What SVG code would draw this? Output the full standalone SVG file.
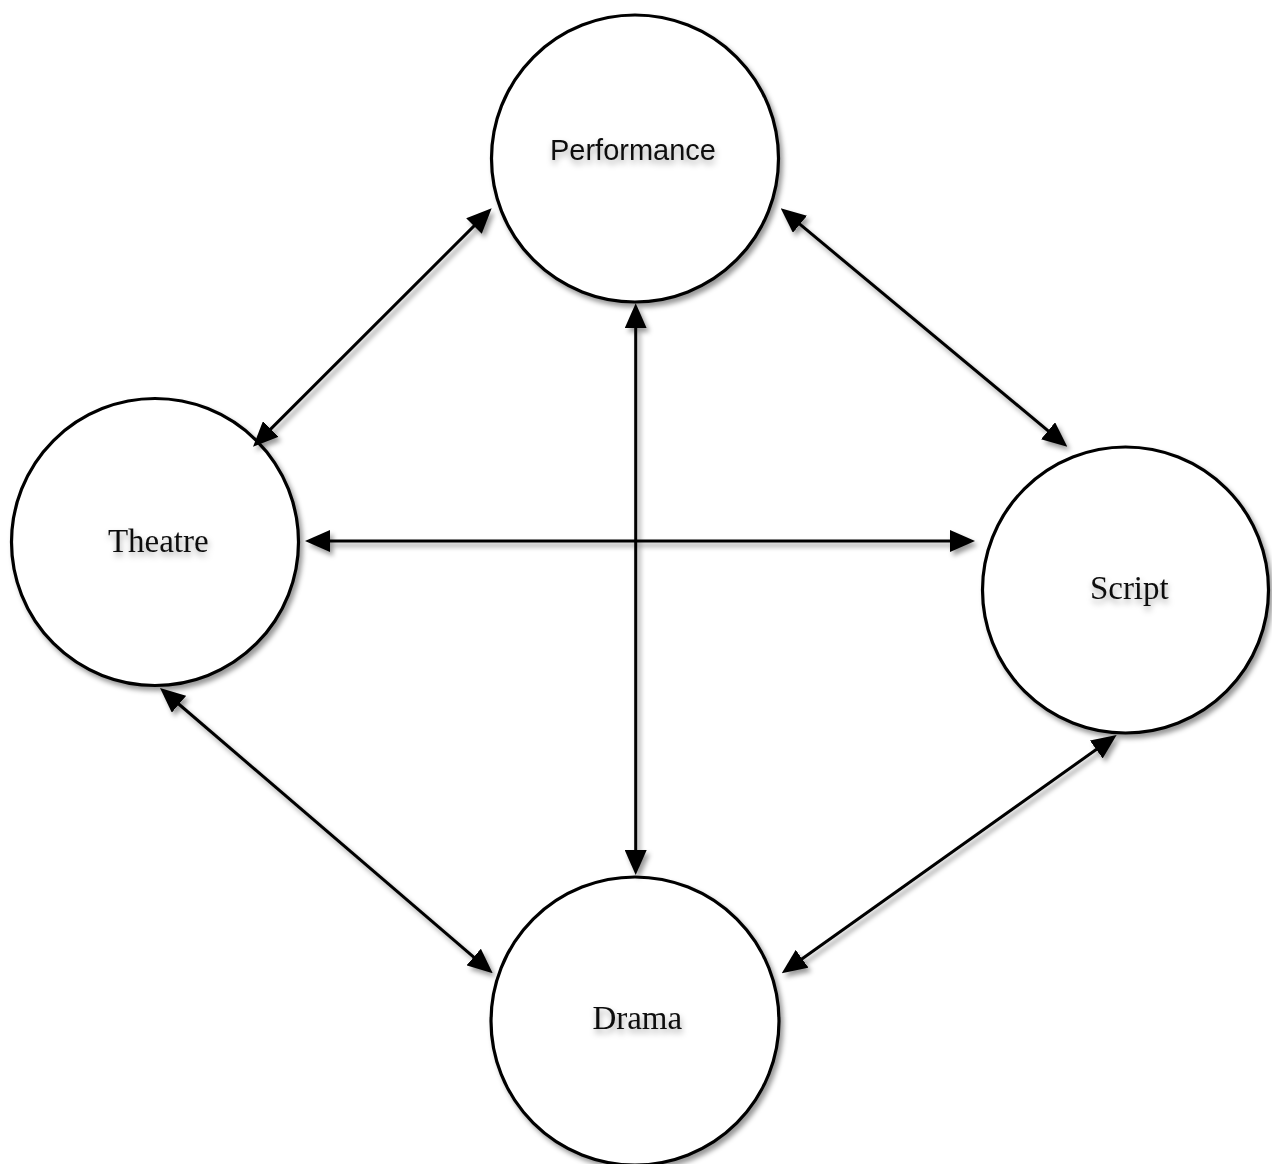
<svg xmlns="http://www.w3.org/2000/svg" width="1272" height="1164" viewBox="0 0 1272 1164">
  <defs>
    <filter id="shadow" x="-20%" y="-20%" width="140%" height="140%">
      <feDropShadow dx="3" dy="4" stdDeviation="2.5" flood-color="#000" flood-opacity="0.4"/>
    </filter>
    <filter id="tshadow" x="-20%" y="-30%" width="140%" height="180%">
      <feDropShadow dx="1" dy="4" stdDeviation="3" flood-color="#000" flood-opacity="0.35"/>
    </filter>
    <marker id="arrow" viewBox="0 0 25 22" refX="15" refY="11" markerWidth="25" markerHeight="22" markerUnits="userSpaceOnUse" orient="auto-start-reverse">
      <path d="M0,0 L25,11 L0,22 Z" fill="#000"/>
    </marker>
  </defs>
  <style>
    .node circle { fill: #fff; stroke: #000; stroke-width: 3.2; }
    .sans { font-family: "Liberation Sans", Arial, sans-serif; font-size: 29px; fill: #111; text-anchor: middle; }
    .serif { font-family: "Liberation Serif", "Times New Roman", serif; font-size: 33px; fill: #111; text-anchor: middle; }
    .conn line { stroke: #000; stroke-width: 3; fill: none; marker-start: url(#arrow); marker-end: url(#arrow); }
  </style>
  <rect width="1272" height="1164" fill="#fff"/>

  <g id="node-performance" class="node">
    <circle cx="635" cy="158.5" r="143.5" filter="url(#shadow)"/>
    <text class="sans" x="633" y="160" filter="url(#tshadow)">Performance</text>
  </g>
  <g id="node-theatre" class="node">
    <circle cx="155" cy="542" r="143.5" filter="url(#shadow)"/>
    <text class="serif" x="158.3" y="551.5" filter="url(#tshadow)">Theatre</text>
  </g>
  <g id="node-script" class="node">
    <circle cx="1125.5" cy="590" r="143" filter="url(#shadow)"/>
    <text class="serif" x="1129.3" y="599.3" filter="url(#tshadow)">Script</text>
  </g>
  <g id="node-drama" class="node">
    <circle cx="635" cy="1021" r="144" filter="url(#shadow)"/>
    <text class="serif" x="637.3" y="1029.3" filter="url(#tshadow)">Drama</text>
  </g>

  <g id="connectors" class="conn" filter="url(#shadow)">
    <line x1="484.6" y1="215.4" x2="260.1" y2="439.6"/>
    <line x1="788.4" y1="214.7" x2="1059.6" y2="440.3"/>
    <line x1="315" y1="541" x2="965" y2="541"/>
    <line x1="635.7" y1="313.3" x2="635.7" y2="865"/>
    <line x1="167.6" y1="694.5" x2="485.1" y2="966.8"/>
    <line x1="1108.5" y1="740.8" x2="789.9" y2="967.5"/>
  </g>
</svg>
